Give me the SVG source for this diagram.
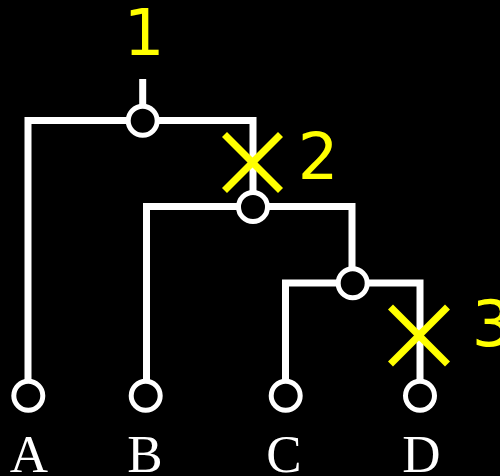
<svg xmlns="http://www.w3.org/2000/svg" width="500" height="476" viewBox="0 0 500 476">
<style>
.edge{fill:none;stroke:#fff;stroke-width:7;stroke-linecap:butt;stroke-linejoin:miter}
.node{fill:#000;stroke:#fff;stroke-width:5}
.cut{stroke:#ff0;stroke-width:7;stroke-linecap:butt}
.num{fill:#ff0;font-family:"DejaVu Sans",sans-serif;font-size:64px;text-anchor:middle}
.leaf{fill:#fff;font-family:"Liberation Serif",serif;font-size:53px;text-anchor:middle}
</style>
<rect width="500" height="476" fill="#000"/>
<g id="connectors">
<path class="edge" d="M142.7,79 V121"/>
<path class="edge" d="M28,395 V120.5 H253 V207"/>
<path class="edge" d="M146.5,395 V206.5 H352 V283"/>
<path class="edge" d="M285.5,395 V283 H420 V395"/>
</g>
<g id="root"><circle class="node" cx="142.7" cy="120.7" r="14.5"/><text class="num" x="144" y="55">1</text></g>
<g id="n2"><circle class="node" cx="253" cy="207" r="14.5"/></g>
<g id="n3"><circle class="node" cx="352.7" cy="283.3" r="14.5"/></g>
<g id="cut2"><line class="cut" x1="224.5" y1="134.5" x2="280.5" y2="190.5"/><line class="cut" x1="280.5" y1="134.5" x2="224.5" y2="190.5"/><text class="num" x="318" y="179">2</text></g>
<g id="cut3"><line class="cut" x1="390.5" y1="307" x2="447.5" y2="364"/><line class="cut" x1="447.5" y1="307" x2="390.5" y2="364"/><text class="num" x="492" y="346">3</text></g>
<g id="leafA"><circle class="node" cx="28.3" cy="395.7" r="14.5"/><text class="leaf" x="29" y="472">A</text></g>
<g id="leafB"><circle class="node" cx="145.7" cy="395.7" r="14.5"/><text class="leaf" x="145" y="472">B</text></g>
<g id="leafC"><circle class="node" cx="285.7" cy="395.7" r="14.5"/><text class="leaf" x="284" y="472">C</text></g>
<g id="leafD"><circle class="node" cx="420" cy="395.7" r="14.5"/><text class="leaf" x="421.5" y="472">D</text></g>
</svg>
